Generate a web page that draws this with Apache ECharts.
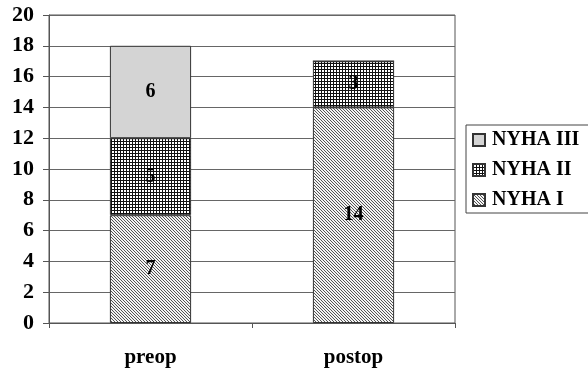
<!DOCTYPE html>
<html><head><meta charset="utf-8">
<script src="https://cdn.jsdelivr.net/npm/echarts@6/dist/echarts.min.js"></script>
<style>html,body{margin:0;padding:0;background:#fff}#c{width:588px;height:368px}</style>
</head><body><div id="c"></div>
<script>
const categories = ['preop', 'postop'];
const nyha1 = [7, 14];
const nyha2 = [5, 3];
const nyha3 = [6, 0];
const yTicks = {min: 0, max: 20, interval: 2};

function hatch() {
  const c = document.createElement('canvas'); c.width = 3; c.height = 3;
  const g = c.getContext('2d');
  g.fillStyle = '#f4f4f4'; g.fillRect(0, 0, 3, 3);
  g.fillStyle = '#555';
  g.fillRect(0, 0, 1, 1); g.fillRect(1, 1, 1, 1); g.fillRect(2, 2, 1, 1);
  return c;
}
function grid() {
  const c = document.createElement('canvas'); c.width = 3; c.height = 3;
  const g = c.getContext('2d');
  g.fillStyle = '#ffffff'; g.fillRect(0, 0, 3, 3);
  g.fillStyle = '#111'; g.fillRect(0, 0, 3, 1); g.fillRect(0, 0, 1, 3);
  return c;
}
const font = '"Liberation Serif", "Times New Roman", serif';
const chart = echarts.init(document.getElementById('c'));
const lbl = {show: true, position: 'inside', color: '#000', fontFamily: font, fontWeight: 'bold', fontSize: 20,
  formatter: p => p.value ? String(p.value) : ''};
chart.setOption({
  animation: false,
  grid: {left: 49, top: 15, width: 406, height: 308, show: true, borderColor: '#555', borderWidth: 1},
  legend: {
    orient: 'vertical', left: 466, top: 125, data: ['NYHA III', 'NYHA II', 'NYHA I'],
    icon: 'rect', itemWidth: 12, itemHeight: 12, itemGap: 10, padding: [5, 30, 3, 6],
    borderColor: '#444', borderWidth: 1,
    textStyle: {fontFamily: font, fontWeight: 'bold', fontSize: 20, color: '#000', padding: [0, 0, 0, 2]}
  },
  xAxis: {
    type: 'category', data: categories,
    axisLine: {lineStyle: {color: '#555'}},
    axisTick: {show: true, length: 5, lineStyle: {color: '#555'}},
    axisLabel: {fontFamily: font, fontWeight: 'bold', fontSize: 21, color: '#000', margin: 24}
  },
  yAxis: {
    type: 'value', min: yTicks.min, max: yTicks.max, interval: yTicks.interval,
    axisLine: {show: true, lineStyle: {color: '#555'}},
    axisTick: {show: true, length: 6, lineStyle: {color: '#555'}},
    splitLine: {lineStyle: {color: '#666'}},
    axisLabel: {fontFamily: font, fontWeight: 'bold', fontSize: 22, color: '#000', margin: 15}
  },
  series: [
    {name: 'NYHA I', type: 'bar', stack: 's', data: nyha1, barWidth: '40%',
     itemStyle: {color: {image: hatch(), repeat: 'repeat'}, borderColor: '#333', borderWidth: 1}, label: lbl},
    {name: 'NYHA II', type: 'bar', stack: 's', data: nyha2,
     itemStyle: {color: {image: grid(), repeat: 'repeat'}, borderColor: '#333', borderWidth: 1}, label: lbl},
    {name: 'NYHA III', type: 'bar', stack: 's', data: nyha3,
     itemStyle: {color: '#d4d4d4', borderColor: '#333', borderWidth: 1}, label: lbl}
  ]
});
</script></body></html>
